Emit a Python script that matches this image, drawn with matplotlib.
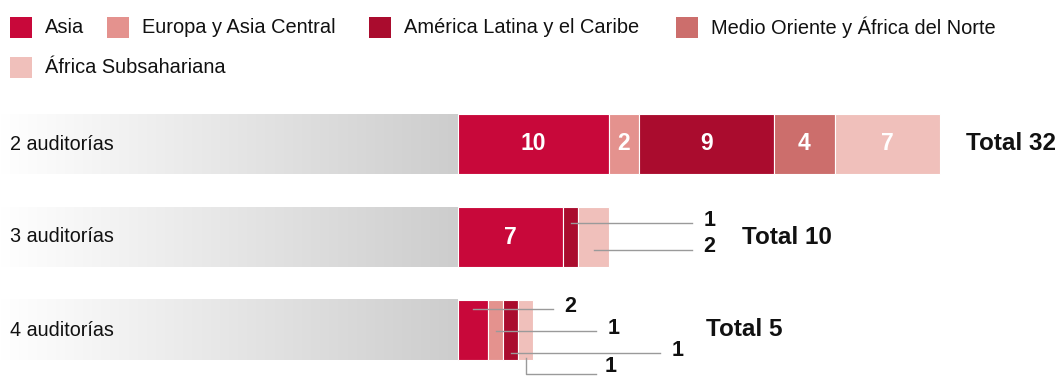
import numpy as np
import matplotlib.pyplot as plt
from matplotlib.colors import LinearSegmentedColormap
from matplotlib.patches import Rectangle

plt.rcParams['font.family'] = ['Liberation Sans', 'DejaVu Sans']

# audit counts per region
categories = ['2 auditorías', '3 auditorías', '4 auditorías']
regions = ['Asia', 'Europa y Asia Central', 'América Latina y el Caribe',
           'Medio Oriente y África del Norte', 'África Subsahariana']
colors = ['#c8083a', '#e4928e', '#aa0c2e', '#cc6e6c', '#f0c0bb']
values = [
    [10, 2, 9, 4, 7],
    [7, 0, 1, 0, 2],
    [2, 1, 1, 0, 1],
]
totals = [sum(v) for v in values]

# figure laid out in data units: 0 at the start of the bars
px_per_unit = 15.06
row_px = 93.0
W, H = 1059, 376
x0_px, y0_px = 458, 144

fig = plt.figure(figsize=(W / 100, H / 100), dpi=100)
ax = fig.add_axes([0, 0, 1, 1])
ax.set_xlim(-x0_px / px_per_unit, (W - x0_px) / px_per_unit)
ax.set_ylim((H - y0_px) / row_px, -y0_px / row_px)
ax.axis('off')

bar_h = 60 / row_px
grad = LinearSegmentedColormap.from_list('g', ['#ffffff', '#cdcdcd'])
ramp = np.linspace(0, 1, 256).reshape(1, -1)

for i, cat in enumerate(categories):
    # gray fade behind the category label
    ax.imshow(ramp, cmap=grad, aspect='auto', interpolation='bilinear',
              extent=(-x0_px / px_per_unit, 0, i + bar_h / 2, i - bar_h / 2),
              zorder=1)
    ax.text(-x0_px / px_per_unit + 10 / px_per_unit, i, cat, fontsize=14.2,
            va='center', ha='left', color='#111111', zorder=3)

    left = 0
    for j, v in enumerate(values[i]):
        if v == 0:
            continue
        ax.barh(i, v, left=left, height=bar_h, color=colors[j],
                edgecolor='white', linewidth=0.8, zorder=2)
        if i == 0 or v >= 3:
            ax.text(left + v / 2, i, str(v), color='white', fontsize=16.5,
                    fontweight='bold', ha='center', va='center', zorder=3)
        left += v

# leader lines for the narrow segments: (row, region, line y offset, line end x)
leaders = [
    (1, 2, -14, 15.54),
    (1, 4, 13, 15.54),
    (2, 0, -21, 6.31),
    (2, 1, 1, 9.16),
    (2, 2, 23, 13.41),
]
for row, reg, dy, xend in leaders:
    v = values[row][reg]
    xs = sum(values[row][:reg]) + v / 2
    yl = row + dy / row_px
    ax.plot([xs, xend], [yl, yl], color='#9a9a9a', lw=1, zorder=4)
    ax.text(xend + 0.75, yl - 3 / row_px, str(v), fontsize=15.5,
            fontweight='bold', ha='left', va='center', color='#111111')

# last segment of the bottom row drops below the bar
v = values[2][4]
xs = sum(values[2][:4]) + v / 2
ax.plot([xs, xs, 9.16], [2 + 28 / row_px, 2 + 44 / row_px, 2 + 44 / row_px],
        color='#9a9a9a', lw=1, zorder=4)
ax.text(9.16 + 0.6, 2 + 36 / row_px, str(v), fontsize=15.5,
        fontweight='bold', ha='left', va='center', color='#111111')

# totals
total_x = [33.7, 18.86, 16.47]
for i, t in enumerate(totals):
    ax.text(total_x[i], i, f'Total {t}', fontsize=17.5, fontweight='bold',
            ha='left', va='center', color='#111111')

# legend drawn by hand so the entries flow across rows
legend_pos = [(10, 17), (107, 17), (369, 17), (676, 17), (10, 57)]
for (px, py), name, c in zip(legend_pos, regions, colors):
    fig.add_artist(Rectangle((px / W, 1 - (py + 21) / H), 22 / W, 21 / H,
                             facecolor=c, edgecolor='none',
                             transform=fig.transFigure))
    fig.text((px + 35) / W, 1 - (py + 10.5) / H, name, fontsize=14.4,
             ha='left', va='center', color='#111111')

fig.savefig('out.png', dpi=100)
